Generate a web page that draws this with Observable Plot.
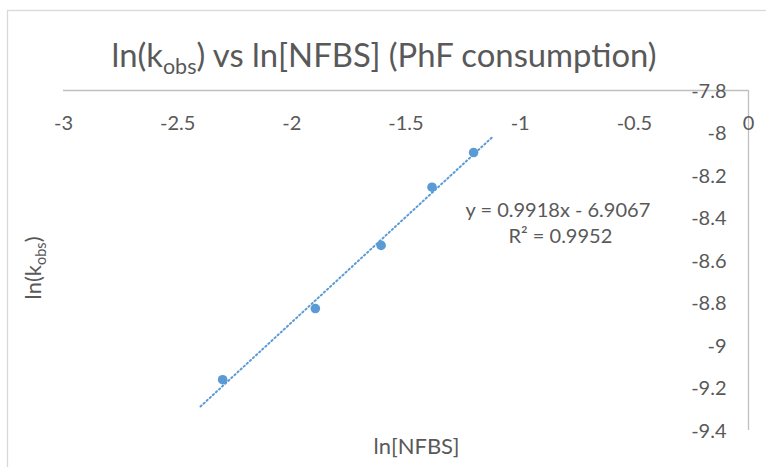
<!DOCTYPE html>
<html>
<head>
<meta charset="utf-8">
<script src="https://cdn.jsdelivr.net/npm/d3@7"></script>
<script src="https://cdn.jsdelivr.net/npm/@observablehq/plot@0.6"></script>
<style>
  html, body { margin: 0; padding: 0; background: #fff; }
  #chart { position: relative; width: 766px; height: 467px; overflow: hidden; }
  svg { font-family: Lato, "Open Sans", sans-serif; }
</style>
</head>
<body>
<div id="chart"></div>
<script>
// ---- data ----
const lnNFBS = [-2.303, -1.897, -1.609, -1.386, -1.204];
const lnKobs = [-9.161, -8.826, -8.529, -8.255, -8.092];
const xTicks = [-3, -2.5, -2, -1.5, -1, -0.5, 0];
const yTicks = [-7.8, -8, -8.2, -8.4, -8.6, -8.8, -9, -9.2, -9.4];
const trendSlope = 0.9918;
const trendIntercept = -6.9067;
const trendR2 = 0.9952;
const trendXExtent = [-2.4, -1.117];

const points = lnNFBS.map((x, i) => ({x, y: lnKobs[i]}));
const trend = trendXExtent.map(x => ({x, y: trendSlope * x + trendIntercept}));

const blue = "#5B9BD5";
const grey = "#595959";
const axisGrey = "#BFBFBF";
const tickSize = 20;

const plot = Plot.plot({
  width: 766,
  height: 467,
  marginLeft: 63,
  marginRight: 18,
  marginTop: 90,
  marginBottom: 37,
  x: {domain: [-3, 0], axis: null},
  y: {domain: [-9.4, -7.8], axis: null},
  style: {background: "#fff", overflow: "visible"},
  marks: [
    Plot.ruleY([-7.8], {stroke: axisGrey, strokeWidth: 1.3}),
    Plot.ruleX([0], {stroke: axisGrey, strokeWidth: 1.3}),
    Plot.text(xTicks, {x: d => d, y: -7.8, dy: 33, text: d => String(d), fill: grey, fontSize: tickSize, textAnchor: "middle"}),
    Plot.text(yTicks, {x: 0, y: d => d, dx: -22, dy: 1, text: d => String(d), fill: grey, fontSize: tickSize, textAnchor: "end"}),
    Plot.line(trend, {x: "x", y: "y", stroke: blue, strokeWidth: 2, strokeDasharray: "1.4 2.8", strokeLinecap: "round"}),
    Plot.dot(points, {x: "x", y: "y", r: 4.8, fill: blue, stroke: "none"}),
    Plot.text([`y = ${trendSlope}x - ${Math.abs(trendIntercept)}`], {frameAnchor: "top-left", dx: 465 - 63, dy: 202 - 90, text: d => d, fill: grey, fontSize: tickSize, textAnchor: "start"}),
    Plot.text([`R² = ${trendR2}`], {frameAnchor: "top-left", dx: 508 - 63, dy: 228 - 90, text: d => d, fill: grey, fontSize: tickSize, textAnchor: "start"}),
    Plot.text(["ln[NFBS]"], {frameAnchor: "bottom-left", dx: 416 - 63, dy: 453 - 430, text: d => d, fill: grey, fontSize: 22, textAnchor: "middle"})
  ]
});

document.getElementById("chart").appendChild(plot);

const svg = d3.select(plot);
// chart border
svg.insert("rect", ":first-child")
  .attr("x", 7.5).attr("y", 10.5).attr("width", 800).attr("height", 500)
  .attr("fill", "none").attr("stroke", "#D9D9D9").attr("stroke-width", 1.3);

// title with subscript
const t = svg.append("text")
  .attr("x", 384).attr("y", 67)
  .attr("text-anchor", "middle")
  .attr("fill", grey)
  .attr("font-size", 32.8);
t.append("tspan").text("ln(k");
t.append("tspan").attr("font-size", 21.5).attr("dy", 7).text("obs");
t.append("tspan").attr("dy", -7).text(") vs ln[NFBS] (PhF consumption)");

// y axis title rotated with subscript
const yt = svg.append("text")
  .attr("transform", "translate(41,268) rotate(-90)")
  .attr("text-anchor", "middle")
  .attr("fill", grey)
  .attr("font-size", 22);
yt.append("tspan").text("ln(k");
yt.append("tspan").attr("font-size", 14.5).attr("dy", 4.5).text("obs");
yt.append("tspan").attr("dy", -4.5).text(")");
</script>
</body>
</html>
